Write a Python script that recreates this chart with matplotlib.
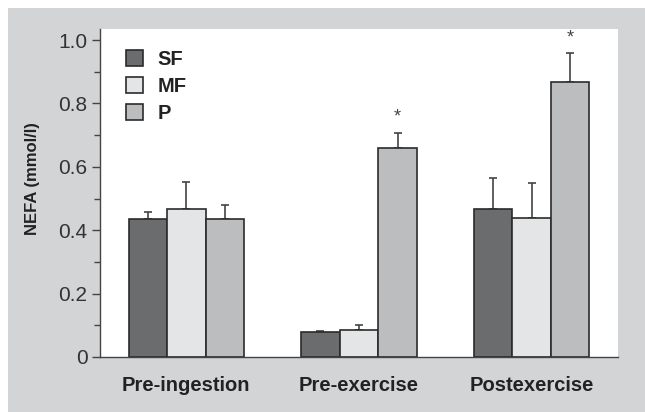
import numpy as np
import matplotlib
matplotlib.use("Agg")
import matplotlib.pyplot as plt
from matplotlib.patches import Rectangle
from matplotlib.ticker import MultipleLocator

# Data
categories = ["Pre-ingestion", "Pre-exercise", "Postexercise"]
series_names = ["SF", "MF", "P"]
sf_values = [0.434, 0.078, 0.466]
mf_values = [0.466, 0.086, 0.438]
p_values = [0.436, 0.661, 0.868]
sf_err = [0.024, 0.005, 0.098]
mf_err = [0.085, 0.014, 0.112]
p_err = [0.044, 0.047, 0.090]
starred = [1, 2]  # groups with an asterisk above the P bar

# Styles
W, H, DPI = 645, 412, 100
BG = "#d3d4d6"
COLORS = ["#6b6c6e", "#e4e5e7", "#bcbdbf"]
EDGE = "#2b2b2b"
TEXT = "#333333"
FONT = ["Liberation Sans", "DejaVu Sans"]
plt.rcParams["font.family"] = FONT

fig = plt.figure(figsize=(W / DPI, H / DPI), dpi=DPI, facecolor="white")
# gray panel behind everything
fig.patches.append(Rectangle((8 / W, 0), 1, 1 - 8 / H, transform=fig.transFigure,
                             facecolor=BG, edgecolor="none", zorder=-10))

# axes: x 100..618 px, y 29..357 px
ax = fig.add_axes([100 / W, 1 - 357 / H, 518 / W, 328 / H])
ax.set_zorder(1)
ax.set_facecolor("white")

x = np.arange(len(categories))
width = 0.223
values = [sf_values, mf_values, p_values]
errors = [sf_err, mf_err, p_err]
for i, (vals, errs) in enumerate(zip(values, errors)):
    pos = x + (i - 1) * width
    ax.bar(pos, vals, width, color=COLORS[i], edgecolor=EDGE, linewidth=1.2,
           label=series_names[i], zorder=2)
    ax.errorbar(pos, vals, yerr=[np.zeros(len(vals)), errs], fmt="none",
                ecolor="#444444", elinewidth=1.2, capsize=3, capthick=1.2, zorder=1)

for j in starred:
    top = p_values[j] + p_err[j]
    ax.text(x[j] + width, top + 0.022, "*", ha="center", va="bottom",
            fontsize=13, color="#444444")

ax.set_xlim(-0.5, 2.5)
ax.set_ylim(0, 1.035)
ax.set_xticks(x)
ax.set_xticklabels(categories, fontsize=14.5, fontweight="bold", color="#222222")
ax.tick_params(axis="x", length=0, pad=14)
ax.set_yticks([0, 0.2, 0.4, 0.6, 0.8, 1.0])
ax.set_yticklabels(["0", "0.2", "0.4", "0.6", "0.8", "1.0"], fontsize=15, color=TEXT)
ax.yaxis.set_minor_locator(MultipleLocator(0.1))
ax.tick_params(axis="y", which="major", length=6, width=1, color="#444444", pad=3)
ax.tick_params(axis="y", which="minor", length=4, width=1, color="#444444")
for s in ["top", "right"]:
    ax.spines[s].set_visible(False)
for s in ["left", "bottom"]:
    ax.spines[s].set_color("#444444")
    ax.spines[s].set_linewidth(1)

fig.text(33 / W, 1 - 179 / H, "NEFA (mmol/l)", rotation=90, ha="center", va="center",
         fontsize=12, fontweight="bold", color="#222222")

leg = ax.legend(loc="upper left", bbox_to_anchor=(0.035, 0.96), frameon=False,
                handlelength=0.85, handleheight=0.85, handletextpad=0.7,
                labelspacing=0.4, borderaxespad=0,
                prop={"family": FONT, "weight": "bold", "size": 14.5})
for t in leg.get_texts():
    t.set_color("#222222")

fig.savefig("out.png", dpi=DPI, facecolor=fig.get_facecolor())
